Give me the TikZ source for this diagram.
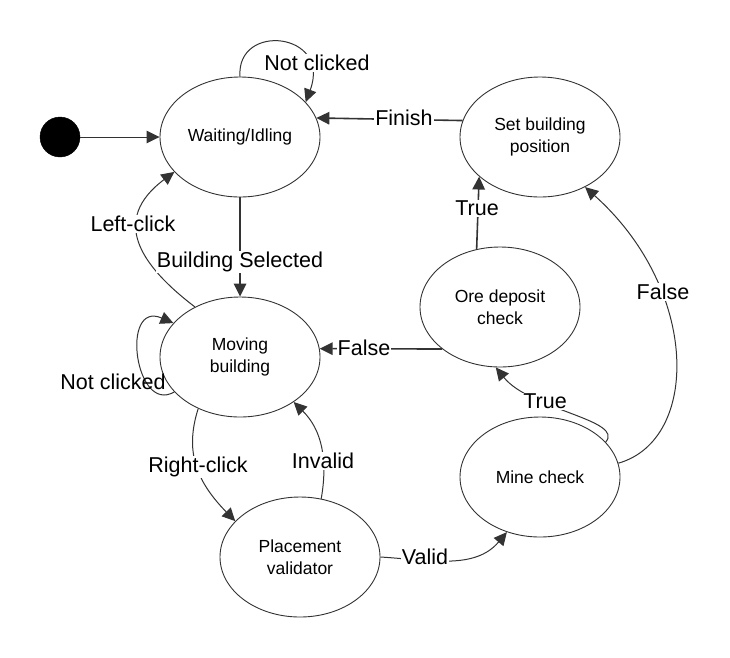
\documentclass[tikz,border=0pt]{standalone}
\usepackage{fontspec}
\setmainfont{Liberation Sans}
\usetikzlibrary{shapes.geometric,arrows.meta}
\definecolor{linec}{HTML}{333333}
\begin{document}
\begin{tikzpicture}[x=1pt,y=-1pt,
  state/.style={ellipse, draw=linec, line width=0.9pt, minimum width=160pt, minimum height=120pt,
    inner sep=0pt, align=center, font=\fontsize{17.5}{21.5}\selectfont},
  lbl/.style={font=\fontsize{21.5}{24}\selectfont, inner sep=1pt, fill=white},
  lblnofill/.style={font=\fontsize{21.5}{24}\selectfont, inner sep=1pt},
  conn/.style={draw=linec, line width=1pt, -{Triangle[length=13pt,width=12.5pt]}},
  thickconn/.style={conn, line width=1.6pt}
]
\useasboundingbox (0,0) rectangle (730,657);

% states
\node[circle, fill=black, draw=black, minimum size=40pt, inner sep=0pt] (init) at (60,137) {};
\node[state] (wait) at (240,137) {Waiting/Idling};
\node[state] (set) at (540,137) {Set building\\position};
\node[state] (ore) at (500,307) {Ore deposit\\check};
\node[state] (mov) at (240,357) {Moving\\building};
\node[state] (plac) at (300,557) {Placement\\validator};
\node[state] (mine) at (540,477) {Mine check};

% connectors
\draw[conn] (init.east) -- (wait.west);
\draw[conn] (wait.north) .. controls (236,22) and (332,32) .. (wait.28);
\draw[thickconn] (set.168) -- (wait.14);
\draw[thickconn] (wait.south) -- (mov.north);
\draw[conn] (mov.132) .. controls (140,265) and (110,220) .. (wait.208);
\draw[conn] (mov.208) .. controls (135,415) and (120,300) .. (mov.153);
\draw[thickconn] (ore.216) -- (mov.6);
\draw[thickconn] (ore.112) -- (set.213);
\draw[conn] (mov.231) .. controls (185,450) and (195,480) .. (plac.151);
\draw[conn] (plac.70) .. controls (328,460) and (322,430) .. (mov.320);
\draw[conn] (plac.east) .. controls (430,560) and (475,570) .. (mine.239);
\draw[conn] (mine.10) .. controls (700,440) and (700,290) .. (set.312);
\draw[conn] (mine.28) .. controls (625,420) and (530,410) .. (ore.266);

% labels
\node[lbl] (lnc1) at (317,63) {Not clicked};
\node[lbl] (lfin) at (404,118) {Finish};
\node[lbl] (lleft) at (133,224) {Left-click};
\node[lbl] (lbs) at (240,262) {Building Selected};
\node[lblnofill] (lnc2) at (113,382) {Not clicked};
\node[lbl] (lfalse1) at (364,348) {False};
\node[lbl] (ltrue1) at (477,208) {True};
\node[lbl] (lfalse2) at (663,292) {False};
\node[lbl] (ltrue2) at (545,401) {True};
\node[lbl] (lright) at (198,467) {Right-click};
\node[lbl] (linv) at (323,461) {Invalid};
\node[lbl] (lval) at (425,557) {Valid};
\end{tikzpicture}
\end{document}
